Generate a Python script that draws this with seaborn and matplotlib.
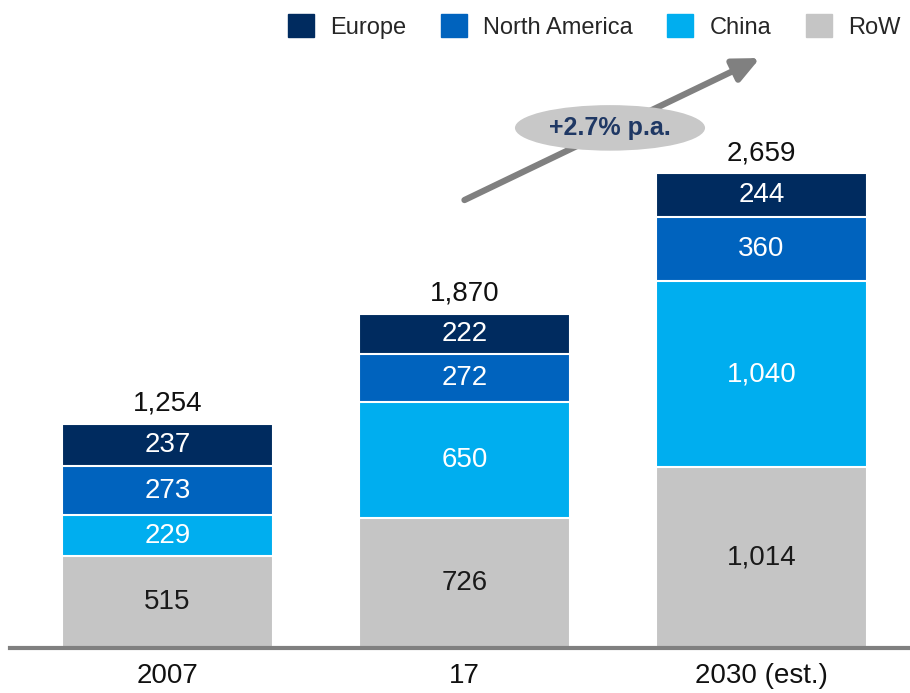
import seaborn as sns
import matplotlib.pyplot as plt
import matplotlib.patches as mpatches
import pandas as pd
import numpy as np

years = ['2007', '17', '2030 (est.)']
regions = ['Europe', 'North America', 'China', 'RoW']
row = [515, 726, 1014]
china = [229, 650, 1040]
north_america = [273, 272, 360]
europe = [237, 222, 244]
totals = ['1,254', '1,870', '2,659']
growth_label = '+2.7% p.a.'

colors = {'Europe': '#002B5F', 'North America': '#0063BE',
          'China': '#00AEEF', 'RoW': '#C5C5C5'}

sns.set_theme(style='white')
plt.rcParams['font.family'] = ['Liberation Sans', 'DejaVu Sans']

df = pd.DataFrame({'year': years, 'RoW': row, 'China': china,
                   'North America': north_america, 'Europe': europe})

fig = plt.figure(figsize=(9.1, 6.93), dpi=100)
ax = fig.add_axes([0.011, 0.0649, 0.989, 0.9351])

# stacked bars: draw cumulative totals from the top segment down
stack_order = ['RoW', 'China', 'North America', 'Europe']
cum = df[stack_order].cumsum(axis=1)
for reg in reversed(stack_order):
    sns.barplot(x=df['year'], y=cum[reg], color=colors[reg], width=0.71,
                edgecolor='white', linewidth=1.5, ax=ax, saturation=1)

# segment labels
bottoms = np.zeros(len(years))
for reg in stack_order:
    vals = df[reg].values
    for i, v in enumerate(vals):
        txt_color = '#1a1a1a' if reg == 'RoW' else 'white'
        ax.text(i, bottoms[i] + v / 2, f'{v:,}', ha='center', va='center',
                fontsize=20, color=txt_color)
    bottoms += vals

for i, t in enumerate(totals):
    ax.text(i, bottoms[i] + 40, t, ha='center', va='bottom', fontsize=20,
            color='#111111')

ax.set_xlim(-0.53, 2.5)
ax.set_ylim(0, 3628)
ax.set_xlabel('')
ax.set_ylabel('')
ax.set_yticks([])
ax.tick_params(axis='x', length=0, pad=11, labelsize=20, labelcolor='#111111')
for s in ['top', 'left', 'right']:
    ax.spines[s].set_visible(False)
ax.spines['bottom'].set_color('#808080')
ax.spines['bottom'].set_linewidth(3)

# growth arrow with ellipse label
ax.annotate('', xy=(1.995, 3303), xytext=(1.0, 2508),
            arrowprops=dict(arrowstyle='-|>,head_length=1.3,head_width=0.6',
                            color='#808080', lw=4.5, shrinkA=0, shrinkB=0))
ax.add_patch(mpatches.Ellipse((1.49, 2912), 0.64, 255, facecolor='#C8C8C8',
                              edgecolor='none', zorder=5))
ax.text(1.49, 2912, growth_label, ha='center', va='center', fontsize=18,
        fontweight='bold', color='#1F3864', zorder=6)

handles = [mpatches.Patch(color=colors[r], label=r) for r in regions]
fig.legend(handles=handles, loc='upper right', bbox_to_anchor=(1.013, 1.01),
           ncol=4, frameon=False, fontsize=17, handlelength=1.1,
           handleheight=1.1, columnspacing=1.45, handletextpad=0.7)

fig.savefig('out.png', dpi=100)
